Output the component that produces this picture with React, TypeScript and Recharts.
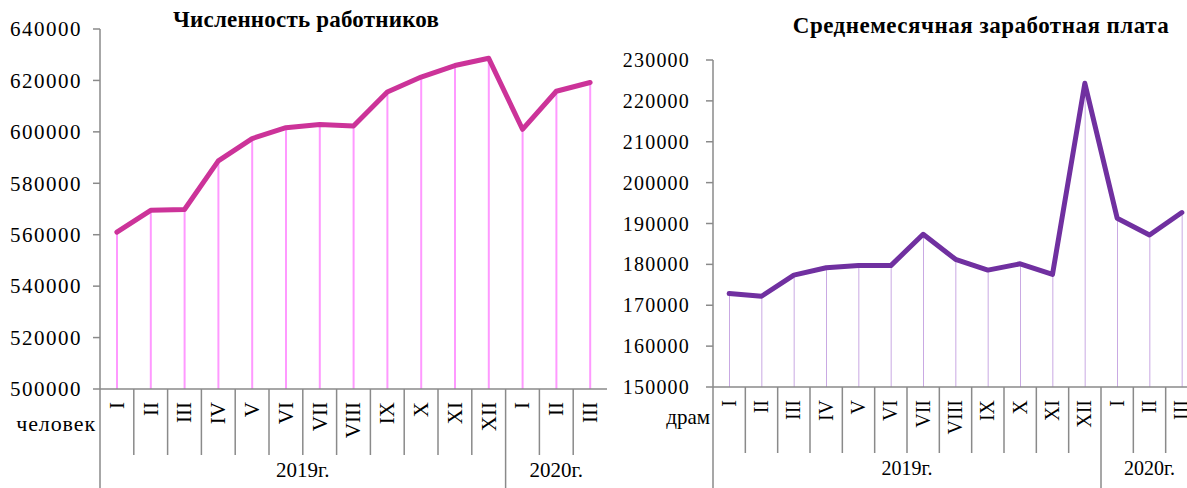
import React from 'react';
import { ComposedChart, Line, Bar, XAxis, YAxis } from 'recharts';

const months = ['I', 'II', 'III', 'IV', 'V', 'VI', 'VII', 'VIII', 'IX', 'X', 'XI', 'XII', 'I', 'II', 'III'];
const years = ['2019г.', '2020г.'];
const workers = [561000, 569500, 569800, 588700, 597400, 601600, 602900, 602300, 615500, 621300, 625800, 628600, 601000, 615800, 619200];
const wages = [172870, 172200, 177370, 179160, 179750, 179700, 187370, 181230, 178600, 180150, 177540, 224300, 191300, 187200, 192680];
const workerTicks = [500000, 520000, 540000, 560000, 580000, 600000, 620000, 640000];
const wageTicks = [150000, 160000, 170000, 180000, 190000, 200000, 210000, 220000, 230000];
const titles = ['Численность работников', 'Среднемесячная заработная плата'];
const units = ['человек', 'драм'];

const workerData = months.map((m, i) => ({ idx: i, m, v: workers[i] }));
const wageData = months.map((m, i) => ({ idx: i, m, v: wages[i] }));

const AXIS = '#8a8a8a';
const FONT = "'Liberation Serif', 'Times New Roman', serif";

function makeYTick(fontSize: number, spacing: number) {
  return (props: any) => {
    const { x, y, payload } = props;
    return (
      <text x={x} y={y} dy="0.35em" textAnchor="end" fill="#000" fontFamily={FONT} fontSize={fontSize} style={{ letterSpacing: spacing }}>
        {payload.value}
      </text>
    );
  };
}

function makeXTick(half: number, fontSize: number) {
  return (props: any) => {
    const { x, y, payload } = props;
    const i = Number(payload.value);
    const label = months[i];
    const yearStart = i === 0 || i === 12;
    const ty = y + 13;
    return (
      <g>
        <line x1={x - half} x2={x - half} y1={y} y2={yearStart ? y + 120 : y + 66} stroke={AXIS} strokeWidth={1.5} />
        <text x={x} y={ty} transform={`rotate(-90 ${x} ${ty})`} dy="0.33em" textAnchor="end" fill="#000" fontFamily={FONT} fontSize={fontSize}>
          {label}
        </text>
        {i === 5 && (
          <text x={x + half} y={y + 88} textAnchor="middle" fill="#000" fontFamily={FONT} fontSize={fontSize}>
            {years[0]}
          </text>
        )}
        {i === 13 && (
          <text x={x} y={y + 88} textAnchor="middle" fill="#000" fontFamily={FONT} fontSize={fontSize}>
            {years[1]}
          </text>
        )}
      </g>
    );
  };
}

const L_W = 610;
const L_YW = 100;
const L_MR = 3;
const L_HALF = (L_W - L_YW - L_MR) / workers.length / 2;

const R_W = 600;
const R_YW = 113;
const R_MR = 2;
const R_HALF = (R_W - R_YW - R_MR) / wages.length / 2;

const txt = (extra: React.CSSProperties): React.CSSProperties => ({
  position: 'absolute',
  fontFamily: FONT,
  color: '#000',
  whiteSpace: 'nowrap',
  lineHeight: 1.2,
  ...extra,
});

export default function App() {
  return (
    <div style={{ position: 'absolute', left: 0, top: 0, width: 1187, height: 488, overflow: 'hidden', background: '#fff', fontFamily: FONT }}>
      <div style={{ position: 'absolute', left: 0, top: 0 }}>
        <ComposedChart width={L_W} height={488} data={workerData} margin={{ top: 29, right: L_MR, left: 0, bottom: 0 }}>
          <XAxis
            dataKey="idx"
            type="category"
            height={99}
            interval={0}
            tickSize={0}
            tickMargin={0}
            tickLine={false}
            axisLine={{ stroke: AXIS, strokeWidth: 1.5 }}
            tick={makeXTick(L_HALF, 21)}
          />
          <YAxis
            domain={[500000, 640000]}
            ticks={workerTicks}
            interval={0}
            width={L_YW}
            tickSize={7}
            tickMargin={11}
            allowDataOverflow
            axisLine={{ stroke: AXIS, strokeWidth: 1.5 }}
            tickLine={{ stroke: AXIS, strokeWidth: 1.5 }}
            tick={makeYTick(21, 1.5)}
          />
          <Bar dataKey="v" barSize={2} fill="#FF99FF" isAnimationActive={false} />
          <Line dataKey="v" stroke="#CC3399" strokeWidth={5} dot={false} strokeLinejoin="round" strokeLinecap="round" isAnimationActive={false} />
        </ComposedChart>
      </div>
      <div style={{ position: 'absolute', left: 600, top: 0 }}>
        <ComposedChart width={R_W} height={488} data={wageData} margin={{ top: 60, right: R_MR, left: 0, bottom: 0 }}>
          <XAxis
            dataKey="idx"
            type="category"
            height={101}
            interval={0}
            tickSize={0}
            tickMargin={0}
            tickLine={false}
            axisLine={{ stroke: AXIS, strokeWidth: 1.5 }}
            tick={makeXTick(R_HALF, 20)}
          />
          <YAxis
            domain={[150000, 230000]}
            ticks={wageTicks}
            interval={0}
            width={R_YW}
            tickSize={7}
            tickMargin={16}
            allowDataOverflow
            axisLine={{ stroke: AXIS, strokeWidth: 1.5 }}
            tickLine={{ stroke: AXIS, strokeWidth: 1.5 }}
            tick={makeYTick(20, 1.2)}
          />
          <Bar dataKey="v" barSize={1} fill="#C9A9E3" isAnimationActive={false} />
          <Line dataKey="v" stroke="#7030A0" strokeWidth={5} dot={false} strokeLinejoin="round" strokeLinecap="round" isAnimationActive={false} />
        </ComposedChart>
      </div>
      <div style={txt({ left: 156, top: 6, width: 300, textAlign: 'center', fontWeight: 'bold', fontSize: 23, letterSpacing: 0.2 })}>
        {titles[0]}
      </div>
      <div style={txt({ left: 781, top: 12, width: 400, textAlign: 'center', fontWeight: 'bold', fontSize: 23, letterSpacing: 0.5 })}>
        {titles[1]}
      </div>
      <div style={txt({ left: 2, top: 411, width: 94, textAlign: 'right', fontSize: 22, letterSpacing: 0.9 })}>
        {units[0]}
      </div>
      <div style={txt({ left: 630, top: 405, width: 80, textAlign: 'right', fontSize: 21 })}>
        {units[1]}
      </div>
    </div>
  );
}
